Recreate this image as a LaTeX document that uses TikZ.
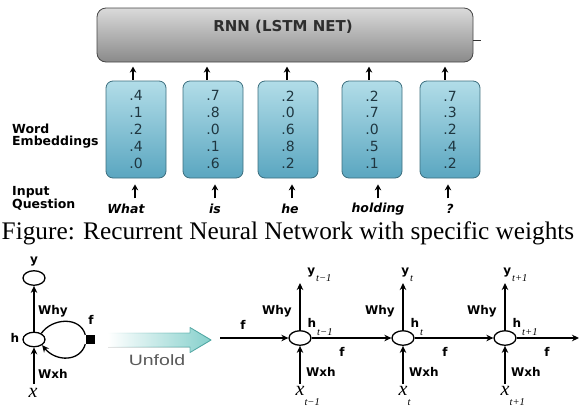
\documentclass[tikz,border=0pt]{standalone}
\usepackage{fontspec}
\setmainfont{Liberation Serif}
\newfontfamily\djs{DejaVu Sans}
\newfontfamily\unfoldfam[FakeStretch=1.3]{Liberation Sans}
\usetikzlibrary{shapes.geometric,arrows.meta,calc,fadings}

\definecolor{embtop}{HTML}{B2DDE8}
\definecolor{embbot}{HTML}{5AA6C0}
\definecolor{embdraw}{HTML}{3C6E7E}
\definecolor{numcol}{HTML}{1F3640}
\definecolor{rnntop}{HTML}{DADADA}
\definecolor{rnnmid}{HTML}{B0B0B0}
\definecolor{rnnbot}{HTML}{8A8A8A}
\definecolor{rnntext}{HTML}{2E2E2E}
\definecolor{unfoldfill}{HTML}{86D0CC}
\definecolor{unfolddraw}{HTML}{4FAAA6}
\definecolor{unfoldtext}{HTML}{5A5A5A}

\newcommand{\labfont}{\djs\bfseries\fontsize{12}{12}\selectfont}
\newcommand{\sidefont}{\djs\bfseries\fontsize{12.5}{12.5}\selectfont}
\newcommand{\wordfont}{\djs\bfseries\itshape\fontsize{12.5}{12.5}\selectfont}
\newcommand{\numfont}{\djs\fontsize{14}{16.8}\selectfont}
\newcommand{\subfont}{\rmfamily\itshape\fontsize{10.5}{10.5}\selectfont}
\newcommand{\varfont}{\rmfamily\itshape\fontsize{20}{20}\selectfont}

\tikzfading[name=fadeinright, left color=transparent!100, right color=transparent!0]

\begin{document}
\begin{tikzpicture}[x=1pt,y=-1pt,
  emb/.style={draw=embdraw, line width=0.8pt, rounded corners=7pt,
    top color=embtop, bottom color=embbot, minimum width=60pt,
    minimum height=97pt, inner sep=0pt, align=center, font=\numfont, text=numcol},
  rnnbox/.style={draw=gray!55!black, line width=0.8pt, rounded corners=9pt,
    top color=rnntop, middle color=rnnmid, bottom color=rnnbot,
    minimum width=376pt, minimum height=54pt, inner sep=0pt},
  arrtop/.style={-{Stealth[length=6pt,width=6.5pt]}, line width=1.7pt},
  arr/.style={-{Stealth[length=7pt,width=6.5pt]}, line width=1.3pt},
  cell/.style={ellipse, draw, line width=1.3pt, minimum width=22pt,
    minimum height=14.5pt, inner sep=0pt},
  tx/.style={inner sep=0pt},
  txb/.style={inner sep=0pt, anchor=base west},
]
\useasboundingbox (0,0) rectangle (579,408);

% ---------- upper diagram: word embeddings feeding the RNN ----------
\node[rnnbox] (rnn) at (285,35) {};
\node[tx, text=rnntext, font=\djs\bfseries\fontsize{15}{15}\selectfont] (rnnlab) at (283,27) {RNN (LSTM NET)};
\coordinate (tickend) at (481,40);
\draw[line width=0.8pt, gray!40!black] ([yshift=-5pt]rnn.east) -- (tickend);

\node[emb] (e1) at (136,129.5) {.4\\.1\\.2\\.4\\.0};
\node[emb] (e2) at (213,129.5) {.7\\.8\\.0\\.1\\.6};
\node[emb] (e3) at (288,129.5) {.2\\.0\\.6\\.8\\.2};
\node[emb] (e4) at (372,129.5) {.2\\.7\\.0\\.5\\.1};
\node[emb] (e5) at (450,129.5) {.7\\.3\\.2\\.4\\.2};

\foreach \n/\dx in {1/-3,2/-6,3/-1,4/-3,5/-5}
  \draw[arrtop] ($(e\n.north)+(\dx,-1)$) -- ($(e\n.north)+(\dx,-14)$);

\node[tx, anchor=west, align=left, font=\sidefont] (wordemb) at (12,136)
  {Word\\[-0.5pt]Embeddings};
\node[tx, anchor=west, align=left, font=\sidefont] (inq) at (12,198.5)
  {Input\\[0.5pt]Question};

\node[tx, font=\wordfont] (w1) at (126,209) {What};
\node[tx, font=\wordfont] (w2) at (215,209) {is};
\node[tx, font=\wordfont] (w3) at (290,209) {he};
\node[tx, font=\wordfont] (w4) at (378,209) {holding};
\node[tx, font=\wordfont] (w5) at (450,209) {?};

\foreach \n/\dx in {1/-1,2/2,3/4,4/6,5/-2}
  \draw[arrtop] ($(e\n.south)+(\dx,20)$) -- ($(e\n.south)+(\dx,6)$);

\node[txb] (caption) at (1.5,239)
  {\fontsize{25.3}{30}\selectfont Figure: Recurrent Neural Network with specific weights};

% ---------- lower diagram: folded recurrent cell ----------
\node[cell] (fy) at (34,278) {};
\node[cell] (fh) at (34,339.5) {};
\node[tx, font=\labfont] (fylab) at (34,262) {y};
\node[tx, font=\labfont] (fhlab) at (15,338) {h};
\node[tx, font=\labfont] (fwhy) at (53,311) {Why};
\node[tx, font=\labfont] (fwxh) at (53,374) {Wxh};
\node[fill=black, minimum size=9pt, inner sep=0pt] (fsq) at (90,339.5) {};
\node[tx, font=\labfont] (fflab) at (91,320) {f};
\node[txb] (fxlab) at (28.5,397.5) {\varfont x};
\coordinate (fxtail) at (34,384);

\draw[arr] (fh.north) -- (fy.south);
\draw[arr] (fxtail) -- (fh.south);
\draw[line width=1.3pt] (fh.40) .. controls (52,318) and (80,316) .. (fsq.north west);
\draw[arr] (fsq.south west) .. controls (80,362) and (56,362) .. (fh.-35);

% ---------- unfold arrow ----------
\fill[left color=white, right color=unfoldfill]
  (108,333) -- (190,333) -- (190,327.5) -- (211,340) -- (190,352.5)
  -- (190,347) -- (108,347) -- cycle;
\draw[unfolddraw, line width=0.9pt, line join=round, path fading=fadeinright]
  (108,333) -- (190,333) -- (190,327.5) -- (211,340) -- (190,352.5)
  -- (190,347) -- (108,347);
\node[tx, text=unfoldtext, font=\unfoldfam\fontsize{15}{15}\selectfont] (unfold) at (157,360) {Unfold};

% ---------- lower diagram: unrolled in time ----------
\node[cell] (c1) at (300,338) {};
\node[cell] (c2) at (403,338) {};
\node[cell] (c3) at (505,338) {};

\coordinate (fin) at (220,338);
\coordinate (fout) at (579,338);
\node[tx, font=\labfont] (fin lab) at (243,325) {f};

\draw[arr] (fin) -- (c1.west);
\draw[arr] (c1.east) -- (c2.west);
\draw[arr] (c2.east) -- (c3.west);
\draw[arr] (c3.east) -- (fout);

\foreach \i/\cx/\yx/\sub in {1/300/311/t\textminus 1, 2/403/405/t, 3/505/507/t+1}{
  \coordinate (ytip\i) at (\cx,283);
  \coordinate (xtail\i) at (\cx,384);
  \draw[arr] (c\i.north) -- (ytip\i);
  \draw[arr] (xtail\i) -- (c\i.south);
  \node[txb] (ylab\i) at (\yx-3.9,274)
    {{\labfont y}\hspace{1pt}\raisebox{-7pt}{\subfont \sub}};
  \node[txb] (hlab\i) at (\cx+7.5,327.5)
    {{\labfont h}\hspace{1pt}\raisebox{-7.5pt}{\subfont \sub}};
  \node[txb] (xlab\i) at (\cx-4.5,395.5)
    {{\varfont x}\raisebox{-10pt}{\subfont \sub}};
  \node[tx, font=\labfont] (why\i) at (\cx-23,311) {Why};
  \node[tx, font=\labfont] (wxh\i) at (\cx+21,372) {Wxh};
  \node[tx, font=\labfont] (f\i) at (\cx+42,352) {f};
}
\end{tikzpicture}
\end{document}
